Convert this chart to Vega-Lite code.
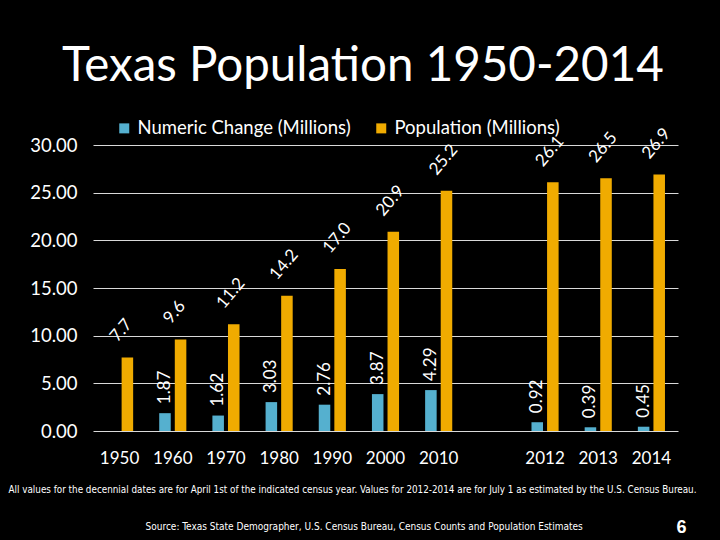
{
  "$schema": "https://vega.github.io/schema/vega-lite/v6.json",
  "width": 585,
  "height": 286,
  "autosize": {"type": "none"},
  "padding": {"left": 93, "top": 145, "right": 42, "bottom": 109},
  "background": "#000000",
  "config": {"view": {"stroke": null}, "font": "Lato"},
  "title": {
    "text": "Texas Population 1950-2014",
    "anchor": "start",
    "frame": "group",
    "dx": -31,
    "fontSize": 47.5,
    "font": "Lato",
    "fontWeight": "normal",
    "color": "#FFFFFF",
    "offset": 29
  },
  "data": {
    "values": [
      {"year": "1950", "series": "Population (Millions)", "value": 7.7},
      {"year": "1960", "series": "Population (Millions)", "value": 9.6},
      {"year": "1970", "series": "Population (Millions)", "value": 11.2},
      {"year": "1980", "series": "Population (Millions)", "value": 14.2},
      {"year": "1990", "series": "Population (Millions)", "value": 17.0},
      {"year": "2000", "series": "Population (Millions)", "value": 20.9},
      {"year": "2010", "series": "Population (Millions)", "value": 25.2},
      {"year": "2012", "series": "Population (Millions)", "value": 26.1},
      {"year": "2013", "series": "Population (Millions)", "value": 26.5},
      {"year": "2014", "series": "Population (Millions)", "value": 26.9},
      {"year": "1960", "series": "Numeric Change (Millions)", "value": 1.87},
      {"year": "1970", "series": "Numeric Change (Millions)", "value": 1.62},
      {"year": "1980", "series": "Numeric Change (Millions)", "value": 3.03},
      {"year": "1990", "series": "Numeric Change (Millions)", "value": 2.76},
      {"year": "2000", "series": "Numeric Change (Millions)", "value": 3.87},
      {"year": "2010", "series": "Numeric Change (Millions)", "value": 4.29},
      {"year": "2012", "series": "Numeric Change (Millions)", "value": 0.92},
      {"year": "2013", "series": "Numeric Change (Millions)", "value": 0.39},
      {"year": "2014", "series": "Numeric Change (Millions)", "value": 0.45}
    ]
  },
  "encoding": {
    "x": {
      "field": "year",
      "type": "nominal",
      "sort": null,
      "scale": {
        "domain": ["1950", "1960", "1970", "1980", "1990", "2000", "2010", " ", "2012", "2013", "2014"],
        "paddingInner": 0.49,
        "paddingOuter": 0.245
      },
      "axis": {
        "title": "All values for the decennial dates are for April 1st of the indicated census year.  Values for 2012-2014 are for July 1 as estimated by the U.S. Census Bureau.",
        "titleFont": "DejaVu Sans Condensed, Liberation Sans Narrow, sans-serif",
        "titleFontSize": 9.8,
        "titleFontWeight": "normal",
        "titleColor": "#FFFFFF",
        "titleX": 259,
        "titleY": 61,
        "titleAlign": "center",
        "titleBaseline": "alphabetic",
        "titleLimit": 720,
        "labelAngle": 0,
        "labelColor": "#FFFFFF",
        "labelFontSize": 17,
        "labelPadding": 19,
        "ticks": false,
        "domain": false,
        "grid": false
      }
    },
    "xOffset": {
      "field": "series",
      "type": "nominal",
      "scale": {
        "domain": ["Numeric Change (Millions)", "Population (Millions)"],
        "paddingInner": 0.26,
        "paddingOuter": 0
      }
    }
  },
  "layer": [
    {
      "mark": {"type": "bar"},
      "encoding": {
        "y": {
          "field": "value",
          "type": "quantitative",
          "scale": {"domain": [0, 30], "nice": false},
          "axis": {
            "values": [0, 5, 10, 15, 20, 25, 30],
            "format": ".2f",
            "labelColor": "#FFFFFF",
            "labelFontSize": 18.5,
            "labelPadding": 16,
            "ticks": false,
            "domain": false,
            "grid": true,
            "gridColor": "#D9D9D9",
            "gridWidth": 1,
            "title": "Source: Texas State Demographer, U.S. Census Bureau, Census Counts and Population Estimates",
            "titleFont": "DejaVu Sans Condensed, Liberation Sans Narrow, sans-serif",
            "titleFontSize": 10,
            "titleFontWeight": "normal",
            "titleColor": "#FFFFFF",
            "titleAngle": 0,
            "titleAlign": "left",
            "titleBaseline": "alphabetic",
            "titleLimit": 600,
            "titleX": 52,
            "titleY": 384
          }
        },
        "color": {
          "field": "series",
          "type": "nominal",
          "scale": {
            "domain": ["Numeric Change (Millions)", "Population (Millions)"],
            "range": ["#55B0CF", "#F0AB00"]
          },
          "legend": {
            "orient": "none",
            "legendX": 22,
            "legendY": -26,
            "direction": "horizontal",
            "title": null,
            "symbolType": "square",
            "symbolSize": 100,
            "symbolStrokeWidth": 0,
            "labelColor": "#FFFFFF",
            "labelFontSize": 18.5,
            "labelLimit": 400,
            "labelOffset": 4,
            "columnPadding": 21
          }
        }
      }
    },
    {
      "transform": [{"filter": "datum.series == 'Population (Millions)'"}],
      "mark": {"type": "text", "angle": -50, "align": "left", "baseline": "middle", "dx": 5, "dy": -22, "color": "#FFFFFF", "fontSize": 17},
      "encoding": {
        "y": {"field": "value", "type": "quantitative", "scale": {"domain": [0, 30], "nice": false}, "axis": null},
        "text": {"field": "value", "type": "quantitative", "format": ".1f"}
      }
    },
    {
      "transform": [{"filter": "datum.series == 'Numeric Change (Millions)'"}],
      "mark": {"type": "text", "angle": -90, "align": "left", "baseline": "middle", "dx": 9, "color": "#FFFFFF", "fontSize": 17},
      "encoding": {
        "y": {
          "field": "value",
          "type": "quantitative",
          "scale": {"domain": [0, 30], "nice": false},
          "axis": {
            "orient": "right",
            "labels": false,
            "ticks": false,
            "domain": false,
            "grid": false,
            "title": "6",
            "titleAngle": 0,
            "titleAlign": "center",
            "titleBaseline": "alphabetic",
            "titleX": 3,
            "titleY": 387,
            "titleFont": "Liberation Sans",
            "titleFontSize": 18,
            "titleFontWeight": "bold",
            "titleColor": "#FFFFFF"
          }
        },
        "text": {"field": "value", "type": "quantitative", "format": ".2f"}
      }
    }
  ],
  "resolve": {"scale": {"y": "independent"}}
}
